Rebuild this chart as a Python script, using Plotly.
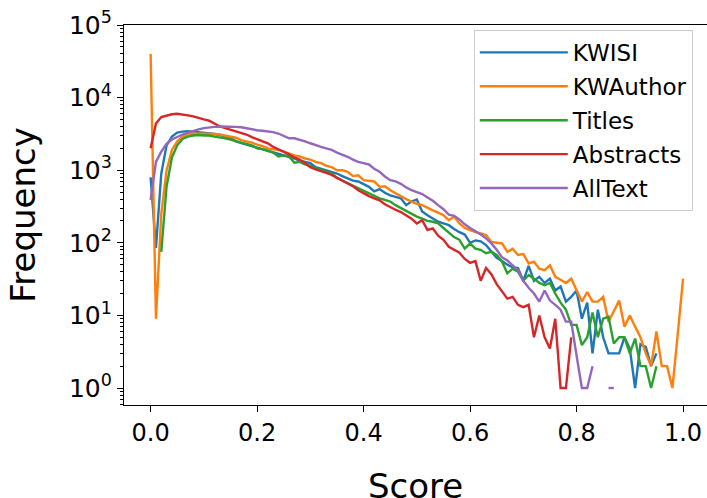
import plotly.graph_objects as go

# Score bins 0.00 .. 1.00 step 0.01
score = [round(i * 0.01, 2) for i in range(101)]

kwisi = [800, 85, 900, 2200, 2900, 3300, 3400, 3450, 3400, 3350,
         3300, 3250, 3150, 3050, 2950, 2800, 2500, 2350, 2250, 2150,
         2050, 1950, 1850, 1750, 1700, 1600, 1550, 1450, 1350, 1300,
         1250, 1100, 1050, 990, 950, 900, 830, 770, 720, 700,
         640, 590, 510, 550, 490, 450, 430, 410, 330, 370,
         395, 270, 240, 215, 195, 185, 175, 155, 140, 130,
         100, 108, 105, 93, 75, 62, 56, 50, 46, 45,
         30, 48, 30, 34, 28, 32, 22, 25, 15.5, 18,
         22, 9, 15, 3, 12, 5, 3, 3, 3, 5,
         3.5, 1, 4, 3.7, 2, 3, None, None, None, None,
         None]

kwauthor = [40000, 9, 250, 1000, 1900, 2500, 2900, 3100, 3200, 3200,
            3200, 3200, 3150, 3100, 3000, 2950, 2800, 2600, 2500, 2400,
            2250, 2150, 2000, 1950, 1900, 1800, 1700, 1600, 1550, 1450,
            1400, 1300, 1250, 1150, 1100, 1000, 1000, 950, 830, 850,
            730, 720, 700, 590, 600, 530, 480, 430, 400, 370,
            345, 330, 300, 280, 260, 240, 205, 230, 185, 160,
            150, 140, 135, 128, 103, 100, 98, 75, 83, 68,
            70, 52, 55, 44, 42, 49, 34, 31, 28, 32,
            22, 15.5, 21, 15.5, 15.5, 18, 8.2, 11.5, 16, 7,
            10, 7, 5, 3, 2, 6, 2, 2, 1, 5.5,
            32]

titles = [None, None, 75, 600, 1500, 2200, 2700, 2900, 3000, 3050,
          3000, 3000, 2900, 2850, 2750, 2650, 2500, 2400, 2300, 2200,
          2000, 1950, 1850, 1750, 1550, 1600, 1550, 1270, 1300, 1200,
          1150, 1050, 1000, 940, 900, 780, 720, 660, 610, 560,
          520, 480, 445, 410, 390, 370, 330, 300, 275, 250,
          230, 215, 200, 195, 185, 160, 140, 120, 110, 83,
          98, 83, 80, 72, 75, 68, 55, 38, 44, 40,
          30, 36, 32, 28, 26, 28, 20, 15, 12, 7.4,
          7.4, 3.9, 5, 11, 5, 9, 9.6, 4.1, 5, 5,
          3, 4.8, 2, 2, 1, 2, None, None, None, None,
          None]

abstracts = [2000, 4400, 5400, 5700, 5900, 6000, 5900, 5700, 5500, 5300,
             5000, 4800, 4400, 4000, 3800, 3600, 3400, 3300, 3100, 2850,
             2650, 2500, 2350, 2100, 1950, 1800, 1650, 1500, 1400, 1250,
             1100, 1030, 980, 920, 860, 790, 720, 660, 600, 530,
             480, 440, 410, 385, 340, 310, 285, 265, 240, 215,
             185, 205, 150, 158, 125, 110, 88, 80, 73, 60,
             53, 56, 30, 45, 37, 27, 21, 17, 18, 14,
             13, 14, 5, 10, 5, 3.5, 9, 1, 1, 5,
             None, None, None, None, None, None, None, None, None, None,
             None, None, None, None, None, None, None, None, None, None,
             None]

alltext = [390, 1300, 1800, 2300, 2650, 2900, 3100, 3300, 3500, 3650,
           3800, 3900, 3950, 4000, 4000, 4000, 3950, 3900, 3750, 3650,
           3550, 3500, 3450, 3350, 3200, 3000, 2750, 2750, 2650, 2500,
           2350, 2200, 2100, 2000, 1900, 1750, 1650, 1530, 1400, 1300,
           1250, 1200, 1050, 950, 820, 730, 700, 650, 580, 530,
           500, 470, 420, 380, 330, 290, 245, 235, 210, 180,
           160, 145, 130, 115, 98, 80, 63, 57, 49, 42,
           30, 24, 20, 15.5, 22, 16, 14, 12, 8.2, 8.2,
           2.8, 1, 1, 2, None, None, 1, 1, None, None,
           None, None, None, None, None, None, None, None, None, None,
           None]

series_names = ["KWISI", "KWAuthor", "Titles", "Abstracts", "AllText"]
series_values = [kwisi, kwauthor, titles, abstracts, alltext]
colors = ["#1f77b4", "#ff7f0e", "#2ca02c", "#d62728", "#9467bd"]

x_title = "Score"
y_title = "Frequency"
y_tickvals = [1, 10, 100, 1000, 10000, 100000]
y_ticktext = ["10<sup>0</sup>", "10<sup>1</sup>", "10<sup>2</sup>",
              "10<sup>3</sup>", "10<sup>4</sup>", "10<sup>5</sup>"]
y_minor = [m * 10 ** k for k in range(-1, 5) for m in range(2, 10)]

fig = go.Figure()
for name, vals, col in zip(series_names, series_values, colors):
    fig.add_trace(go.Scatter(
        x=score, y=vals, mode="lines", name=name, legendgroup=name,
        line=dict(color=col, width=2.4), connectgaps=False,
    ))

font_family = "DejaVu Sans, Arial, sans-serif"

fig.update_layout(
    width=707, height=498,
    margin=dict(l=124, r=0, t=25, b=93),
    paper_bgcolor="white", plot_bgcolor="white",
    font=dict(family=font_family, color="black", size=24),
    showlegend=True,
    legend=dict(
        x=0.60, y=0.987, xanchor="left", yanchor="top",
        bgcolor="rgba(255,255,255,0.8)", bordercolor="#cccccc", borderwidth=1,
        font=dict(size=23, family=font_family), tracegroupgap=1,
        itemwidth=88,
    ),
    annotations=[dict(
        text=x_title, xref="paper", yref="paper", x=0.5, y=0,
        xanchor="center", yanchor="middle", yshift=-81, showarrow=False,
        font=dict(size=34, family=font_family, color="black"),
    )],
)

fig.update_xaxes(
    range=[-0.05, 1.045], tickmode="linear", tick0=0, dtick=0.2,
    tickformat=".1f", ticks="outside", ticklen=6, tickwidth=1.2,
    tickcolor="black", showline=True, linecolor="black", linewidth=1.3,
    mirror=True, showgrid=False, zeroline=False, automargin=False,
    tickfont=dict(size=24),
)

fig.update_yaxes(
    type="log", range=[-0.234, 5], tickmode="array",
    tickvals=y_tickvals, ticktext=y_ticktext,
    ticks="outside", ticklen=6, tickwidth=1.2, tickcolor="black",
    minor=dict(tickmode="array", tickvals=y_minor, ticks="outside",
               ticklen=3, tickwidth=1, tickcolor="black", showgrid=False),
    showline=True, linecolor="black", linewidth=1.3, mirror=False,
    showgrid=False, zeroline=False, automargin=False,
    tickfont=dict(size=25),
    title=dict(text=y_title, font=dict(size=34), standoff=22),
)

fig.write_html(
    "out.html",
    config={"displayModeBar": False},
    post_script="document.body.style.margin='0';document.body.style.padding='0';",
)
